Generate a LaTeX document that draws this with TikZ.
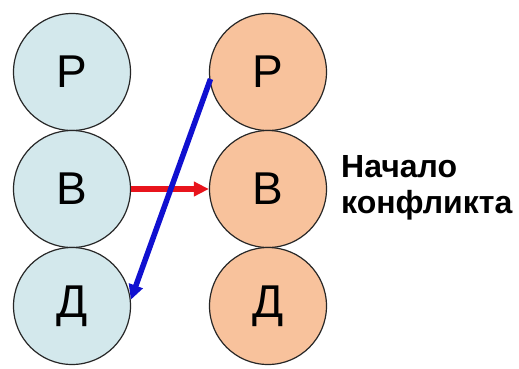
\documentclass[tikz,border=0pt]{standalone}
\usepackage{fontspec}
\setmainfont{Liberation Sans}
\usetikzlibrary{arrows.meta}
\definecolor{lblue}{HTML}{D3E8EC}
\definecolor{lorange}{HTML}{F8C29C}
\definecolor{arrred}{HTML}{E8141C}
\definecolor{arrblue}{HTML}{1010D0}
\tikzset{
  ball/.style={circle, draw=black!85, line width=1.2pt, minimum size=117pt, inner sep=0pt,
    font=\fontsize{46}{46}\selectfont},
  lball/.style={ball, fill=lblue},
  rball/.style={ball, fill=lorange},
  conn/.style={line width=5.5pt, -{Triangle[length=15pt,width=14pt]}},
  lab/.style={font=\bfseries\fontsize{32}{36}\selectfont, align=left, anchor=north west, inner sep=0pt}
}
\begin{document}
\begin{tikzpicture}[x=1pt,y=-1pt]
\useasboundingbox[fill=white] (0,0) rectangle (519,368);
\node[lball] (lp) at (72,72) {Р};
\node[lball] (lv) at (72,189) {В};
\node[lball] (ld) at (72,306) {Д};
\node[rball] (rp) at (268,72) {Р};
\node[rball] (rv) at (268,189) {В};
\node[rball] (rd) at (268,306) {Д};
\node[lab] (txt) at (341,155) {Начало\\конфликта};
\coordinate (bs) at (210.5,79);
\draw[conn, arrred] (lv.east) -- (rv.west);
\draw[conn, arrblue] (bs) -- (ld.6);
\end{tikzpicture}
\end{document}
